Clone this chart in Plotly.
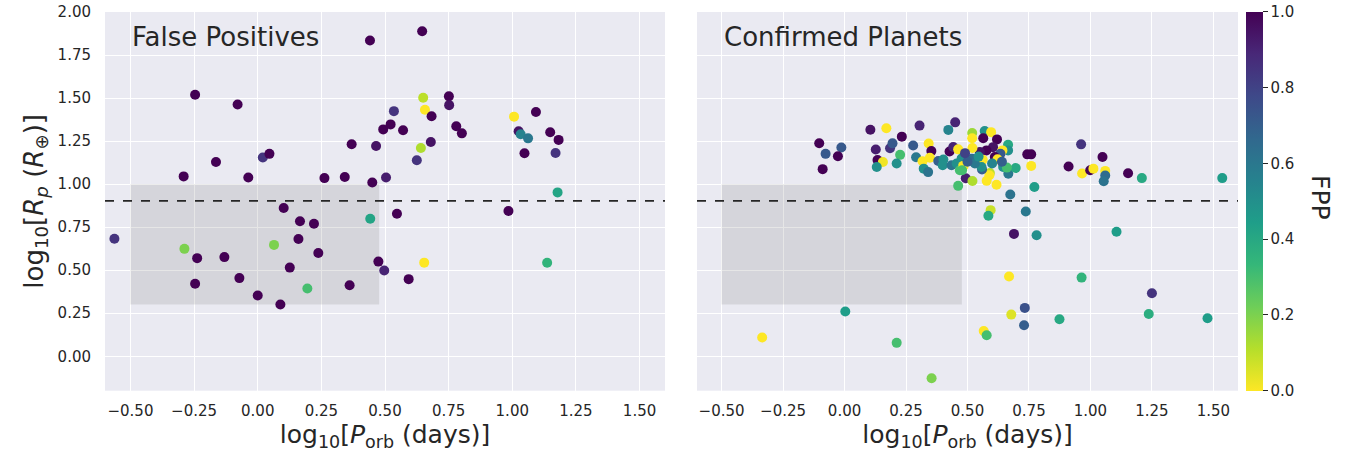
import plotly.graph_objects as go

# ---------------- data: False Positives ----------------
fp_logP = [0.441, 0.646, -0.246, -0.079, -0.164, 0.020, 0.046, -0.291, -0.037, 0.262,
           0.342, 0.450, 0.369, 0.465, 0.650, 0.657, 0.751, 0.752, 0.683, 0.535,
           0.493, 0.522, 0.571, 0.641, 0.625, 0.680, 0.780, 0.802, 0.504, 1.007,
           1.093, 1.025, 1.033, 1.062, 1.149, 1.182, 1.048, 1.170, 1.178, -0.563,
           -0.288, -0.238, -0.246, -0.131, -0.072, 0.000, 0.089, 0.064, 0.102, 0.166,
           0.221, 0.160, 0.126, 0.238, 0.195, 0.361, 0.442, 0.474, 0.497, 0.547,
           0.985, 0.654, 1.137, 0.593]
fp_logR = [1.834, 1.888, 1.519, 1.463, 1.129, 1.155, 1.176, 1.045, 1.039, 1.035,
           1.041, 1.010, 1.232, 1.222, 1.502, 1.432, 1.510, 1.459, 1.394, 1.424,
           1.318, 1.347, 1.313, 1.210, 1.139, 1.245, 1.336, 1.295, 1.039, 1.392,
           1.419, 1.307, 1.290, 1.266, 1.301, 1.257, 1.179, 1.181, 0.952, 0.683,
           0.624, 0.570, 0.421, 0.576, 0.454, 0.353, 0.301, 0.647, 0.861, 0.784,
           0.770, 0.681, 0.515, 0.600, 0.394, 0.413, 0.799, 0.550, 0.498, 0.828,
           0.844, 0.544, 0.543, 0.448]
fp_fpp = [1.00, 1.00, 1.00, 1.00, 1.00, 0.85, 1.00, 1.00, 1.00, 1.00,
          1.00, 1.00, 1.00, 0.95, 0.10, 0.00, 1.00, 0.95, 1.00, 0.85,
          1.00, 1.00, 1.00, 0.12, 0.85, 0.95, 1.00, 1.00, 0.92, 0.00,
          1.00, 0.95, 0.55, 0.60, 1.00, 1.00, 1.00, 0.85, 0.42, 0.85,
          0.20, 1.00, 1.00, 1.00, 1.00, 1.00, 1.00, 0.20, 1.00, 1.00,
          1.00, 1.00, 1.00, 1.00, 0.30, 1.00, 0.42, 1.00, 0.90, 1.00,
          1.00, 0.00, 0.35, 1.00]

# ---------------- data: Confirmed Planets ----------------
cp_logP = [-0.103, -0.077, -0.013, -0.027, -0.089, 0.105, 0.170, 0.233, 0.305, 0.450,
           0.422, 0.127, 0.185, 0.195, 0.134, 0.156, 0.131, 0.226, 0.212, 0.279,
           0.291, 0.342, 0.353, 0.347, 0.317, 0.322, 0.340, 0.381, 0.402, 0.399,
           0.427, 0.442, 0.462, 0.435, 0.456, 0.476, 0.482, 0.469, 0.493, 0.462,
           0.520, 0.519, 0.570, 0.596, 0.620, 0.564, 0.519, 0.604, 0.665, 0.665,
           0.642, 0.634, 0.611, 0.622, 0.577, 0.550, 0.520, 0.562, 0.518, 0.484,
           0.478, 0.591, 0.589, 0.578, 0.618, 0.559, 0.666, 0.645, 0.696, 0.660,
           0.557, 0.530, 0.545, 0.500, 0.490, 0.600, 0.640,
           0.743, 0.759, 0.759, 0.772, 0.674, 0.962, 0.911, 0.966, 0.999, 1.012,
           1.049, 1.060, 1.060, 1.054, 1.153, 1.209, 1.536,
           0.594, 0.585, 0.737, 0.689, 0.781, 1.106, 0.669, 0.964, 1.250, 0.733,
           0.678, 0.874, 1.237, 1.476, 0.730, 0.566, 0.578, 0.003, -0.335, 0.212,
           0.354]
cp_logR = [1.238, 1.176, 1.213, 1.162, 1.087, 1.316, 1.325, 1.276, 1.340, 1.359,
           1.315, 1.201, 1.208, 1.237, 1.140, 1.129, 1.100, 1.170, 1.120, 1.224,
           1.156, 1.236, 1.192, 1.153, 1.133, 1.090, 1.070, 1.134, 1.143, 1.110,
           1.190, 1.216, 1.202, 1.110, 1.120, 1.149, 1.106, 1.081, 1.034, 0.990,
           1.018, 1.297, 1.308, 1.302, 1.260, 1.267, 1.267, 1.215, 1.229, 1.196,
           1.196, 1.177, 1.158, 1.144, 1.196, 1.187, 1.210, 1.142, 1.148, 1.104,
           1.081, 1.065, 1.052, 1.019, 0.996, 1.085, 1.060, 1.100, 1.094, 1.096,
           1.100, 1.120, 1.160, 1.130, 1.180, 1.120, 1.130,
           1.173, 1.173, 1.106, 0.983, 0.940, 1.231, 1.102, 1.062, 1.081, 1.090,
           1.158, 1.077, 1.050, 1.017, 1.063, 1.035, 1.035,
           0.849, 0.816, 0.841, 0.711, 0.703, 0.723, 0.463, 0.457, 0.366, 0.281,
           0.242, 0.215, 0.246, 0.221, 0.180, 0.147, 0.122, 0.260, 0.109, 0.078,
           -0.128]
cp_fpp = [1.00, 0.72, 0.72, 1.00, 1.00, 0.95, 0.00, 1.00, 0.90, 0.90,
          0.55, 0.92, 0.85, 0.72, 1.00, 0.02, 0.50, 0.30, 0.50, 0.72,
          0.60, 0.00, 1.00, 0.00, 0.00, 0.50, 0.62, 0.70, 0.50, 0.50,
          1.00, 0.90, 0.00, 0.62, 0.50, 0.50, 0.00, 0.30, 0.92, 0.30,
          0.12, 0.15, 0.50, 0.00, 1.00, 1.00, 0.00, 0.95, 0.40, 0.50,
          0.00, 0.72, 1.00, 0.00, 1.00, 0.95, 0.00, 0.00, 0.65, 0.00,
          0.30, 0.10, 0.00, 0.00, 0.00, 0.70, 0.60, 0.50, 0.40, 0.30,
          0.50, 0.60, 0.50, 0.70, 0.80, 0.55, 0.70,
          1.00, 1.00, 0.00, 0.45, 0.62, 0.85, 1.00, 0.00, 1.00, 0.00,
          1.00, 0.00, 0.65, 0.62, 1.00, 0.40, 0.45,
          0.08, 0.40, 0.60, 0.95, 0.50, 0.45, 0.00, 0.35, 0.85, 0.75,
          0.05, 0.40, 0.38, 0.45, 0.70, 0.00, 0.30, 0.45, 0.00, 0.30,
          0.20]

x_ticks = [-0.5, -0.25, 0.0, 0.25, 0.5, 0.75, 1.0, 1.25, 1.5]
y_ticks = [0.0, 0.25, 0.5, 0.75, 1.0, 1.25, 1.5, 1.75, 2.0]
cbar_ticks = [0.0, 0.2, 0.4, 0.6, 0.8, 1.0]

# shaded region and threshold (log10 values)
box_x = [-0.5, 0.477]
box_y = [0.301, 1.0]
thresh_y = 0.903

W, H = 1347, 459


def px(x):
    return x / W


def py(y):
    return 1 - y / H


FONT = "DejaVu Sans"
TXT = "#262626"
BG = "#EAEAF2"

fig = go.Figure()

marker_common = dict(size=10, colorscale="Viridis", reversescale=True, cmin=0, cmax=1,
                     line=dict(width=0))

fig.add_trace(go.Scatter(x=fp_logP, y=fp_logR, mode="markers", xaxis="x", yaxis="y",
                         marker=dict(color=fp_fpp, showscale=False, **marker_common),
                         showlegend=False))
fig.add_trace(go.Scatter(x=cp_logP, y=cp_logR, mode="markers", xaxis="x2", yaxis="y2",
                         marker=dict(color=cp_fpp, showscale=True, **marker_common,
                                     colorbar=dict(
                                         x=px(1246), xanchor="left", xref="paper",
                                         y=py(390.7), yanchor="bottom", yref="paper",
                                         len=378.7 / H, lenmode="fraction",
                                         thickness=17, thicknessmode="pixels",
                                         outlinewidth=0, xpad=0, ypad=0,
                                         tickvals=cbar_ticks, ticktext=[f"{v:.1f}" for v in cbar_ticks],
                                         ticks="outside", ticklen=5, tickcolor=TXT, tickwidth=1,
                                         tickfont=dict(family=FONT, size=15, color=TXT),
                                     )),
                         showlegend=False))

x1_dom = [px(105), px(665)]
x2_dom = [px(697), px(1238)]
y_dom = [py(390.7), py(12)]

axis_common = dict(showgrid=True, gridcolor="white", gridwidth=1.3, zeroline=False,
                   showline=False, ticks="outside", tickcolor="rgba(0,0,0,0)",
                   automargin=False,
                   tickfont=dict(family=FONT, size=15, color=TXT))

xtitle = "log<sub>10</sub>[<i>P</i><sub>orb</sub> (days)]"
ytitle = "log<sub>10</sub>[<i>R<sub>p</sub></i> (<i>R</i><sub>⊕</sub>)]"

fig.update_layout(
    width=W, height=H,
    margin=dict(l=0, r=0, t=0, b=0, autoexpand=False),
    paper_bgcolor="white", plot_bgcolor=BG,
    font=dict(family=FONT, color=TXT),
    xaxis=dict(domain=x1_dom, range=[-0.6, 1.6], tickvals=x_ticks, tickformat=".2f",
               anchor="y", ticklen=6,
               title=dict(text=xtitle, font=dict(size=25, color=TXT), standoff=4),
               **axis_common),
    yaxis=dict(domain=y_dom, range=[-0.2, 2.0], tickvals=y_ticks, tickformat=".2f",
               anchor="x", ticklen=10,
               title=dict(text=ytitle, font=dict(size=26, color=TXT), standoff=6),
               **axis_common),
    xaxis2=dict(domain=x2_dom, range=[-0.6, 1.6], tickvals=x_ticks, tickformat=".2f",
                anchor="y2", ticklen=6,
                title=dict(text=xtitle, font=dict(size=25, color=TXT), standoff=4),
                **axis_common),
    yaxis2=dict(domain=y_dom, range=[-0.2, 2.0], tickvals=y_ticks, showticklabels=False,
                anchor="x2", ticklen=0, **axis_common),
)

for xr, yr in (("x", "y"), ("x2", "y2")):
    fig.add_shape(type="rect", xref=xr, yref=yr, x0=box_x[0], x1=box_x[1],
                  y0=box_y[0], y1=box_y[1], fillcolor="rgba(128,128,128,0.2)",
                  line=dict(width=0), layer="between")
    fig.add_shape(type="line", xref=xr + " domain", yref=yr, x0=0, x1=1,
                  y0=thresh_y, y1=thresh_y, line=dict(color="#262626", width=1.6, dash="dash"),
                  layer="above")

fig.add_annotation(text="False Positives", xref="x domain", yref="y domain", x=0.045, y=0.934,
                   xanchor="left", yanchor="middle", showarrow=False,
                   font=dict(family=FONT, size=26, color=TXT))
fig.add_annotation(text="Confirmed Planets", xref="x2 domain", yref="y2 domain", x=0.046, y=0.934,
                   xanchor="left", yanchor="middle", showarrow=False,
                   font=dict(family=FONT, size=26, color=TXT))
# colorbar title, reading top-to-bottom as in the reference
fig.add_annotation(text="FPP", xref="paper", yref="paper", x=px(1321), y=py(197),
                   xanchor="center", yanchor="middle", showarrow=False, textangle=90,
                   font=dict(family=FONT, size=25, color=TXT))

fig.write_html("out.html", config={"displayModeBar": False},
               post_script="document.body.style.margin='0';document.body.style.overflow='hidden';")
